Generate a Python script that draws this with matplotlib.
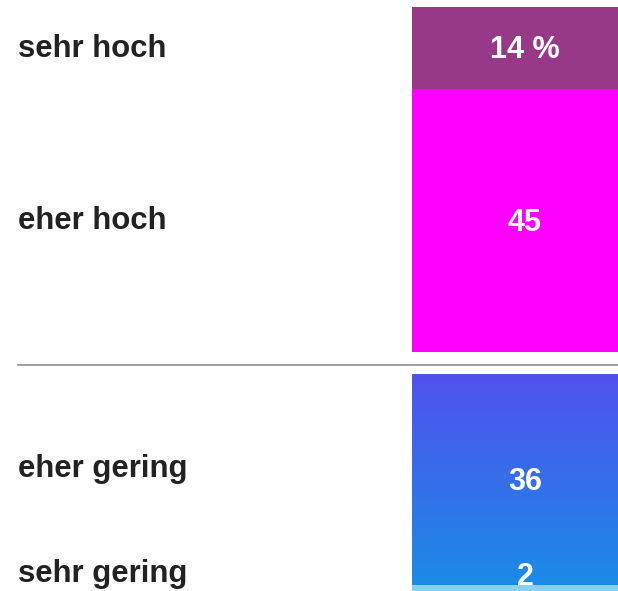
import numpy as np
import matplotlib
matplotlib.use("Agg")
import matplotlib.pyplot as plt
from matplotlib.colors import LinearSegmentedColormap

plt.rcParams["font.family"] = ["Liberation Sans", "DejaVu Sans"]

# Anteile in Prozent
upper_labels = ["sehr hoch", "eher hoch"]
upper_values = [14, 45]
upper_colors = ["#973888", "#ff00ff"]

lower_labels = ["eher gering", "sehr gering"]
lower_values = [36, 2]
lower_colors = [("#5151ee", "#1a8be6"), "#86d0f0"]

value_text = ["14 %", "45", "36", "2"]

W, H, DPI = 618, 591, 100
ppu = 5.85         # Pixel pro Prozentpunkt
top_px = 7
gap = 3.76         # Abstand zwischen den Gruppen (in Prozentpunkten)
label_shift = [0, 0, -1.8, -0.2]

fig = plt.figure(figsize=(W / DPI, H / DPI), dpi=DPI)
ax = fig.add_axes([0, 0, 1, 1])
ax.set_xlim(0, W)
ax.set_ylim((H - top_px) / ppu, -top_px / ppu)
ax.axis("off")

bar_x, bar_w = 412, 226
ymax_visible = (H - top_px) / ppu

segments = []
y = 0
for lab, val, col in zip(upper_labels, upper_values, upper_colors):
    segments.append((lab, val, col, y))
    y += val
sep_y = y + gap * 0.6
y += gap
for lab, val, col in zip(lower_labels, lower_values, lower_colors):
    segments.append((lab, val, col, y))
    y += val

for i, (lab, val, col, y0) in enumerate(segments):
    if isinstance(col, tuple):
        rect = plt.Rectangle((bar_x, y0), bar_w, val, facecolor="none", edgecolor="none")
        ax.add_patch(rect)
        cmap = LinearSegmentedColormap.from_list("g", list(col))
        grad = np.linspace(0, 1, 256).reshape(-1, 1)
        im = ax.imshow(grad, cmap=cmap, aspect="auto",
                       extent=(bar_x, bar_x + bar_w, y0 + val, y0), zorder=1)
        im.set_clip_path(rect)
    else:
        ax.bar(bar_x, val, width=bar_w, bottom=y0, align="edge",
               color=col, linewidth=0, zorder=1)
    yc = min(y0 + val / 2, ymax_visible - 2.8)
    ax.text(525, yc + 0.4, value_text[i], color="white", fontsize=22, fontweight="bold",
            ha="center", va="center", zorder=3)
    ax.text(18, yc - 0.5 + label_shift[i], lab, color="#222222", fontsize=22.4,
            fontweight="bold", ha="left", va="center_baseline", zorder=3)

ax.plot([18, W], [sep_y, sep_y], color="#999999", linewidth=1.3, zorder=2)

fig.savefig("out.png", dpi=DPI)
